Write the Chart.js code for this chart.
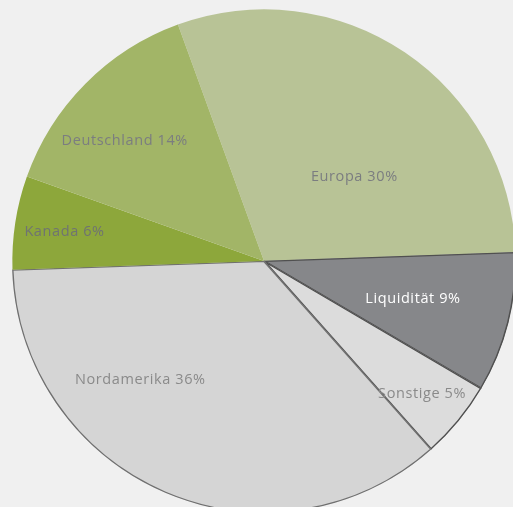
<!DOCTYPE html>
<html>
<head>
<meta charset="utf-8">
<script src="https://cdn.jsdelivr.net/npm/chart.js@4.4.0/dist/chart.umd.min.js"></script>
<style>
  html, body { margin: 0; padding: 0; background: #f0f0f0; overflow: hidden; width: 513px; height: 507px; }
  #wrap { position: absolute; left: -6px; top: -9px; width: 540px; height: 540px; }
</style>
</head>
<body>
<div id="wrap"><canvas id="pie"></canvas></div>
<script>
// Anteile in Prozent
var regions = ['Europa', 'Liquidität', 'Sonstige', 'Nordamerika', 'Kanada', 'Deutschland'];
var shares  = [30, 9, 5, 36, 6, 14];

var fills   = ['#b8c396', '#86878a', '#dcdcdc', '#d5d5d5', '#8da73b', '#a2b567'];
var borders = ['#b8c396', '#505050', '#505050', '#707070', '#8da73b', '#a2b567'];
var bwidth  = [0, 1, 1, 1, 0, 0];

// wo die Beschriftung sitzt: Winkel (Grad, im Uhrzeigersinn von oben) und Abstand relativ zum Radius
var labelAngle = [47, 104.3, 130.1, 226.2, 278.3, 310.8];
var labelDist  = [0.49, 0.61, 0.82, 0.68, 0.80, 0.73];
var labelColor = ['#7b7d80', '#ffffff', '#8a8a8a', '#8a8a8a', '#6f7372', '#7b7d80'];

var sliceLabels = {
  id: 'sliceLabels',
  afterDatasetsDraw: function(chart) {
    var ctx = chart.ctx;
    var arcs = chart.getDatasetMeta(0).data;
    ctx.save();
    ctx.font = '14.5px "Open Sans", sans-serif';
    ctx.letterSpacing = '0.6px';
    ctx.textAlign = 'center';
    ctx.textBaseline = 'middle';
    arcs.forEach(function(arc, i) {
      var a = (labelAngle[i] - 90) * Math.PI / 180;
      var r = arc.outerRadius * labelDist[i];
      ctx.fillStyle = labelColor[i];
      ctx.fillText(regions[i] + ' ' + shares[i] + '%', arc.x + Math.cos(a) * r, arc.y + Math.sin(a) * r);
    });
    ctx.restore();
  }
};

var ctx = document.getElementById('pie').getContext('2d');
var myChart = new Chart(ctx, {
  type: 'pie',
  data: {
    labels: regions,
    datasets: [{
      data: shares,
      backgroundColor: fills,
      borderColor: borders,
      borderWidth: bwidth,
      borderAlign: 'inner'
    }]
  },
  options: {
    responsive: true,
    maintainAspectRatio: false,
    animation: false,
    rotation: -20,
    layout: { padding: 18 },
    events: [],
    plugins: {
      legend: { display: false },
      tooltip: { enabled: false }
    }
  },
  plugins: [sliceLabels]
});
</script>
</body>
</html>
